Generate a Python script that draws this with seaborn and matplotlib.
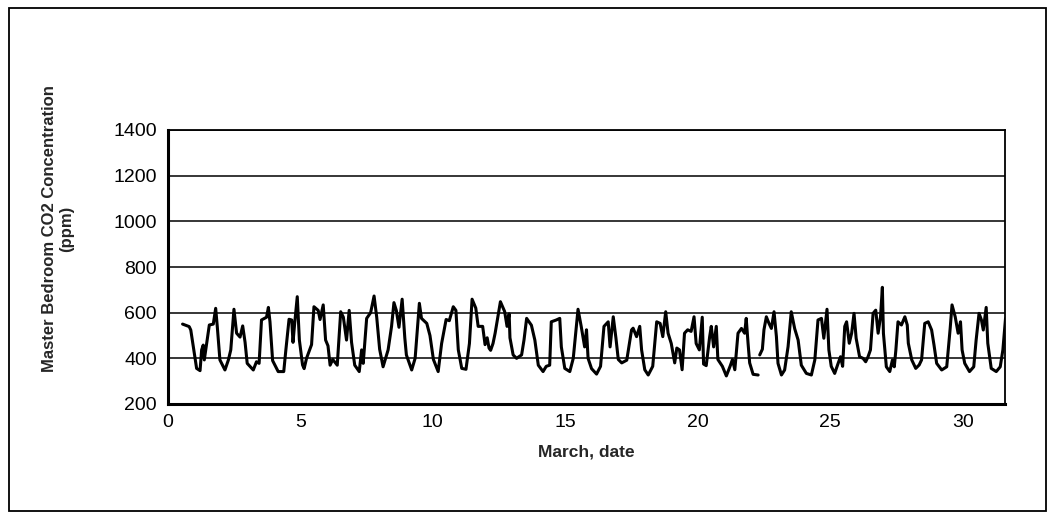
import pandas as pd
import matplotlib.pyplot as plt
import seaborn as sns
import numpy as np
from matplotlib.patches import Rectangle

day_a = [0.55, 0.80, 0.86, 1.08, 1.21, 1.27, 1.33, 1.37, 1.45, 1.56, 1.71, 1.80, 1.86, 1.96,
         2.15, 2.28, 2.37, 2.49, 2.59, 2.72, 2.82, 2.91, 2.99, 3.22, 3.34, 3.44, 3.53, 3.72,
         3.79, 3.85, 3.95, 4.16, 4.37, 4.45, 4.57, 4.67, 4.72, 4.78, 4.88, 4.96, 5.08, 5.14,
         5.23, 5.42, 5.51, 5.67, 5.74, 5.86, 5.95, 6.04, 6.12, 6.22, 6.39, 6.52, 6.62, 6.74,
         6.84, 6.93, 7.05, 7.22, 7.31, 7.37, 7.50, 7.65, 7.78, 7.88, 7.99, 8.12, 8.31, 8.44,
         8.53, 8.62, 8.72, 8.84, 8.94, 9.00, 9.20, 9.33, 9.49, 9.57, 9.77, 9.89, 10.02, 10.20,
         10.33, 10.50, 10.62, 10.77, 10.87, 10.96, 11.09, 11.25, 11.38, 11.48, 11.62, 11.71,
         11.88, 11.97, 12.05, 12.12, 12.18, 12.27, 12.35, 12.55, 12.71, 12.80, 12.88, 12.91,
         13.03, 13.16, 13.35, 13.44, 13.54, 13.72, 13.85, 13.98, 14.16, 14.28, 14.41, 14.47,
         14.66, 14.79, 14.85, 14.98, 15.17, 15.30, 15.48, 15.60, 15.73, 15.80, 15.86, 15.99,
         16.18, 16.33, 16.46, 16.62, 16.69, 16.81, 16.91, 17.00, 17.13, 17.32, 17.50, 17.56,
         17.69, 17.81, 17.88, 18.00, 18.13, 18.30, 18.45, 18.58, 18.68, 18.79, 18.88, 19.00,
         19.13, 19.21, 19.31, 19.41, 19.50, 19.62, 19.75, 19.86, 19.94, 20.06, 20.17, 20.22,
         20.32, 20.45, 20.51, 20.60, 20.70, 20.76, 20.93, 21.08, 21.23, 21.31, 21.40, 21.52,
         21.65, 21.77, 21.83, 21.90, 21.96, 22.09, 22.28]
co2_a = [550, 539, 524, 356, 346, 437, 458, 393, 458, 546, 550, 619, 540, 393,
         349, 393, 437, 615, 510, 493, 542, 470, 378, 349, 385, 378, 568, 580,
         623, 560, 390, 342, 342, 437, 571, 568, 470, 550, 670, 480, 371, 355,
         400, 460, 626, 610, 570, 634, 480, 455, 370, 395, 370, 604, 580, 480,
         610, 470, 370, 342, 437, 378, 575, 600, 673, 580, 440, 363, 437, 540,
         644, 610, 536, 659, 490, 415, 349, 400, 641, 575, 553, 500, 395, 342,
         465, 570, 565, 626, 610, 437, 356, 352, 465, 659, 620, 540,
         540, 460, 490, 445, 435, 465, 510, 648, 605, 540, 595, 490,
         415, 400, 415, 480, 575, 545, 480, 370, 342, 365, 370, 560,
         568, 575, 450, 356, 342, 400, 615, 540, 450, 525, 400, 355,
         331, 365, 540, 560, 450, 582, 490, 395, 380, 392, 524, 532,
         495, 540, 437, 350, 327, 365, 560, 553, 495, 604, 510, 465,
         380, 445, 437, 350, 510, 525, 518, 582, 465, 437, 580, 375,
         368, 495, 540, 450, 540, 395, 365, 323, 368, 395, 350, 510,
         531, 510, 575, 465, 380, 330, 327]

day_b = [22.34, 22.44, 22.50, 22.59, 22.69, 22.78, 22.88, 22.97, 23.03, 23.16, 23.28, 23.41,
         23.53, 23.66, 23.79, 23.91, 24.10, 24.29, 24.42, 24.54, 24.67, 24.76, 24.88, 24.95,
         25.04, 25.17, 25.30, 25.39, 25.47, 25.55, 25.62, 25.72, 25.81, 25.90, 25.98, 26.11,
         26.24, 26.34, 26.43, 26.52, 26.62, 26.72, 26.81, 26.90, 26.97, 27.01, 27.12, 27.25,
         27.35, 27.42, 27.48, 27.56, 27.69, 27.82, 27.91, 27.95, 28.08, 28.23, 28.36, 28.45,
         28.57, 28.70, 28.83, 28.92, 29.02, 29.21, 29.40, 29.53, 29.60, 29.72, 29.83, 29.92,
         29.98, 30.08, 30.26, 30.42, 30.51, 30.62, 30.71, 30.78, 30.89, 30.95, 31.08, 31.27,
         31.42, 31.52, 31.62]
co2_b = [415, 440, 525, 582, 553, 531, 604, 495, 378, 327, 349, 451,
         604, 530, 480, 370, 334, 327, 393, 568, 575, 488, 615, 437,
         365, 334, 378, 407, 365, 540, 560, 466, 510, 597, 488, 407,
         400, 385, 407, 437, 597, 611, 510, 582, 711, 510, 363, 342,
         393, 363, 437, 560, 546, 582, 546, 466, 393, 356, 371, 393,
         553, 560, 524, 458, 378, 349, 363, 531, 634, 582, 510, 560,
         437, 378, 342, 363, 480, 597, 568, 524, 623, 466, 356, 342,
         363, 437, 575]

x_ticks = [0, 5, 10, 15, 20, 25, 30]
y_ticks = [200, 400, 600, 800, 1000, 1200, 1400]

df = pd.concat([
    pd.DataFrame({'day': day_a, 'co2': co2_a, 'seg': 'a'}),
    pd.DataFrame({'day': day_b, 'co2': co2_b, 'seg': 'b'}),
], ignore_index=True)

sns.set_style('white')
plt.rcParams['font.family'] = ['Liberation Sans', 'DejaVu Sans']

fig = plt.figure(figsize=(10.53, 5.22), dpi=100)
ax = fig.add_axes([168 / 1053, 1 - 404 / 522, (1005 - 168) / 1053, (404 - 130) / 522])

sns.lineplot(data=df, x='day', y='co2', units='seg', estimator=None,
             color='black', linewidth=2.2, ax=ax, legend=False)

ax.set_xlim(0, 31.6)
ax.set_ylim(200, 1400)
ax.set_xticks(x_ticks)
ax.set_yticks(y_ticks)
ax.yaxis.grid(True, color='black', linewidth=1.1)
ax.set_axisbelow(True)

for side in ['left', 'bottom']:
    ax.spines[side].set_linewidth(2.2)
for side in ['top', 'right']:
    ax.spines[side].set_linewidth(1.3)
for s in ax.spines.values():
    s.set_color('black')

ax.tick_params(axis='x', direction='inout', length=8, width=1.2, labelsize=14, pad=3, colors='black')
ax.tick_params(axis='y', direction='out', length=5, width=1.2, labelsize=14, pad=3, colors='black')

ax.set_xlabel('March, date', fontsize=12.5, fontweight='bold', labelpad=10)
ax.set_ylabel('Master Bedroom CO2 Concentration\n(ppm)', fontsize=12, fontweight='bold')
# Excel put the axis title higher than the plot centre
ax.yaxis.set_label_coords(-0.112, 0.64)

# outer chart frame
fig.patches.append(Rectangle((9 / 1053, 1 - 511 / 522), (1046 - 9) / 1053, (511 - 8) / 522,
                             transform=fig.transFigure, fill=False, edgecolor='black', linewidth=1.3))

plt.savefig('out.png', dpi=100)
